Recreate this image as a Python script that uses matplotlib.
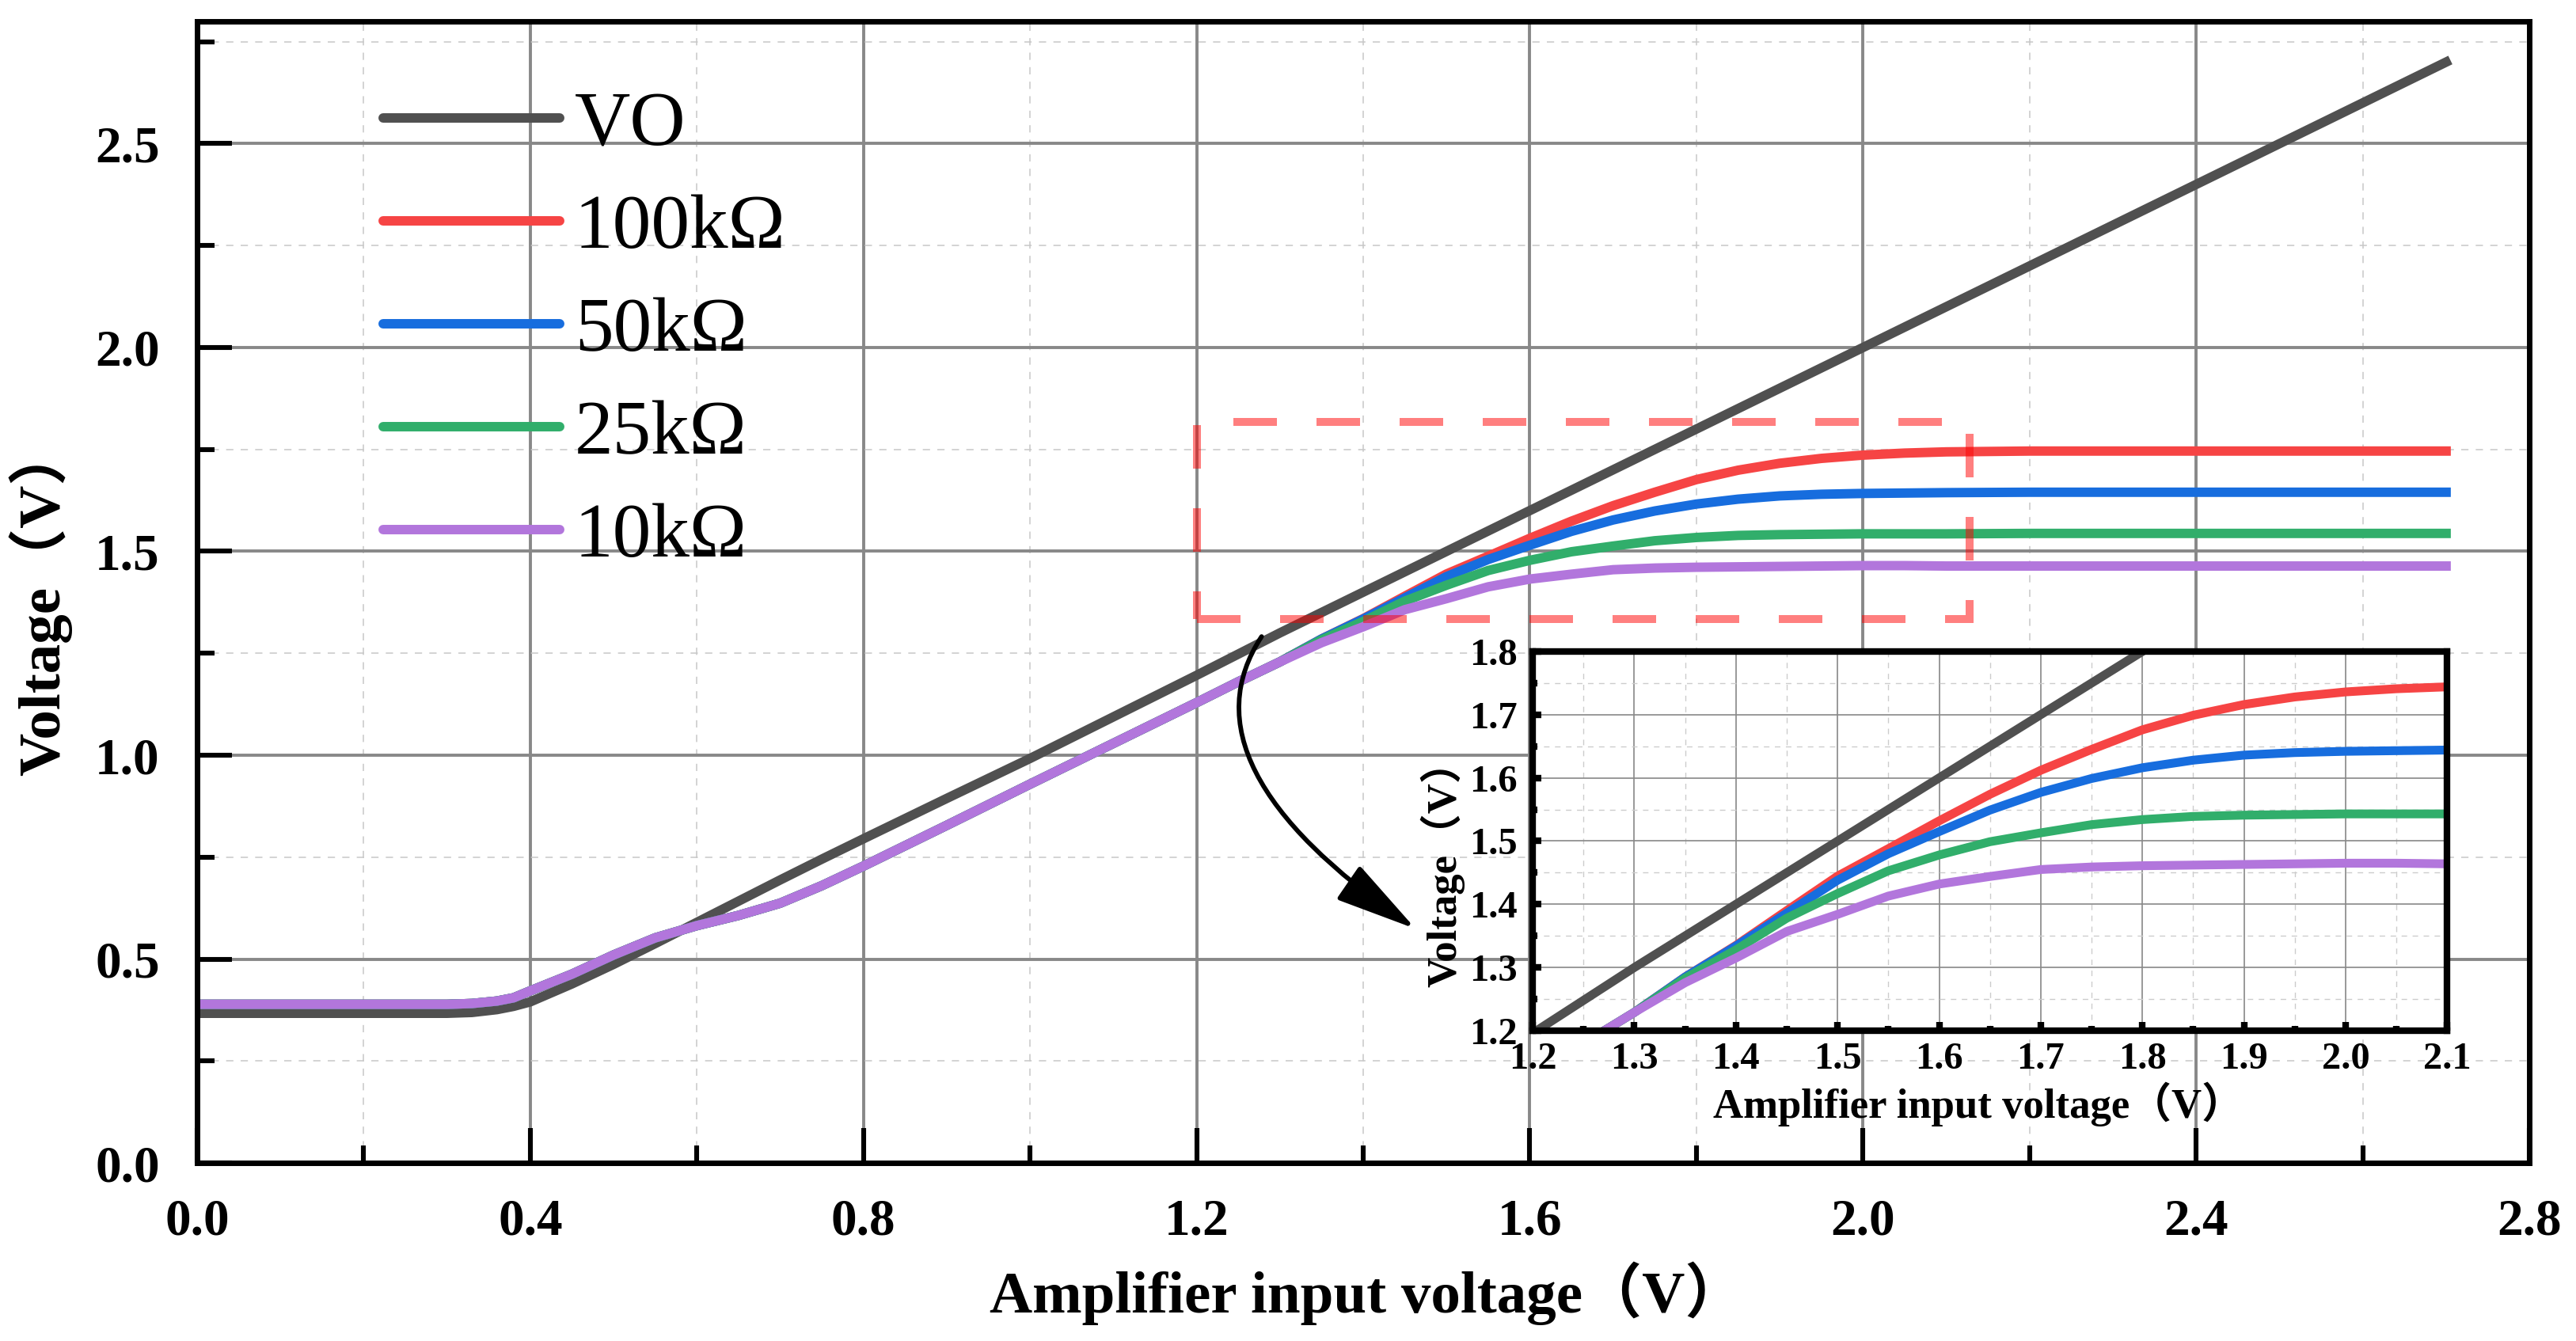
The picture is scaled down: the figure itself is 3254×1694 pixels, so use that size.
import matplotlib
matplotlib.use("Agg")
import matplotlib.pyplot as plt
from matplotlib.patches import Rectangle
from matplotlib.ticker import MultipleLocator, FormatStrFormatter

# amplifier input voltage (V)
x_in = [0.0, 0.1, 0.2, 0.3, 0.33, 0.36, 0.38, 0.4, 0.45, 0.5, 0.55, 0.6, 0.65, 0.7,
        0.75, 0.8, 0.9, 1.0, 1.1, 1.2, 1.25, 1.3, 1.35, 1.4, 1.45, 1.5, 1.55, 1.6,
        1.65, 1.7, 1.75, 1.8, 1.85, 1.9, 1.95, 2.0, 2.05, 2.1, 2.2, 2.4, 2.6, 2.7]

vo = [0.367, 0.367, 0.367, 0.367, 0.369, 0.376, 0.384, 0.395, 0.439, 0.487, 0.538, 0.59,
      0.642, 0.694, 0.745, 0.795, 0.894, 0.992, 1.094, 1.196, 1.248, 1.3, 1.35, 1.4,
      1.45, 1.5, 1.55, 1.6, 1.65, 1.7, 1.75, 1.8, 1.85, 1.9, 1.95, 2.0, 2.05, 2.1,
      2.2, 2.4, 2.6, 2.7]

r100k = [0.389, 0.389, 0.389, 0.389, 0.391, 0.397, 0.405, 0.422, 0.463, 0.51, 0.552, 0.582,
         0.607, 0.637, 0.68, 0.728, 0.828, 0.929, 1.029, 1.129, 1.18, 1.229, 1.285, 1.335,
         1.39, 1.4445, 1.488, 1.532, 1.574, 1.612, 1.645, 1.676, 1.699, 1.716, 1.728, 1.736,
         1.741, 1.744, 1.746, 1.746, 1.746, 1.746]

r50k = [0.389, 0.389, 0.389, 0.389, 0.391, 0.397, 0.405, 0.422, 0.463, 0.51, 0.552, 0.582,
        0.607, 0.637, 0.68, 0.728, 0.828, 0.929, 1.029, 1.129, 1.18, 1.229, 1.285, 1.334,
        1.386, 1.438, 1.48, 1.515, 1.549, 1.577, 1.599, 1.616, 1.628, 1.636, 1.64, 1.642,
        1.643, 1.644, 1.645, 1.645, 1.645, 1.645]

r25k = [0.389, 0.389, 0.389, 0.389, 0.391, 0.397, 0.405, 0.422, 0.463, 0.51, 0.552, 0.582,
        0.607, 0.637, 0.68, 0.728, 0.828, 0.929, 1.029, 1.129, 1.18, 1.229, 1.283, 1.328,
        1.378, 1.417, 1.453, 1.478, 1.499, 1.513, 1.526, 1.534, 1.539, 1.541, 1.542, 1.543,
        1.543, 1.543, 1.544, 1.544, 1.544, 1.544]

r10k = [0.389, 0.389, 0.389, 0.389, 0.391, 0.397, 0.405, 0.422, 0.463, 0.51, 0.552, 0.582,
        0.607, 0.637, 0.68, 0.728, 0.828, 0.929, 1.029, 1.129, 1.18, 1.229, 1.276, 1.315,
        1.357, 1.384, 1.413, 1.432, 1.444, 1.455, 1.459, 1.461, 1.462, 1.463, 1.464, 1.465,
        1.465, 1.464, 1.464, 1.464, 1.464, 1.464]

labels = ["VO", "100kΩ", "50kΩ", "25kΩ", "10kΩ"]
colors = ["#505050", "#F64444", "#176DDE", "#31AE6B", "#B276DC"]

# zoomed region (box on main plot) and arrow ends
box_x = [1.2, 2.128]
box_y = [1.333, 1.818]
arrow_from = (1.278, 1.291)
arrow_to = (1.463, 0.574)

serif = ["Liberation Serif", "Noto Sans CJK SC"]
plt.rcParams["font.family"] = serif
plt.rcParams["font.weight"] = "bold"
plt.rcParams["axes.labelweight"] = "bold"

fig = plt.figure(figsize=(16.27, 8.47), dpi=200)
ax = fig.add_axes([0.0765, 0.1328, 0.9054, 0.8513])

series = [vo, r100k, r50k, r25k, r10k]
for ys, c, lab in zip(series, colors, labels):
    ax.plot(x_in, ys, color=c, lw=4.3, label=lab)

ax.set_xlim(0, 2.8)
ax.set_ylim(0, 2.8)
ax.xaxis.set_major_locator(MultipleLocator(0.4))
ax.xaxis.set_minor_locator(MultipleLocator(0.2))
ax.yaxis.set_major_locator(MultipleLocator(0.5))
ax.yaxis.set_minor_locator(MultipleLocator(0.25))
ax.xaxis.set_major_formatter(FormatStrFormatter("%.1f"))
ax.yaxis.set_major_formatter(FormatStrFormatter("%.1f"))
ax.grid(which="major", color="#888888", lw=1.4)
ax.grid(which="minor", color="#c8c8c8", lw=0.55, ls=(0, (6, 6)))
ax.set_axisbelow(True)
for s in ax.spines.values():
    s.set_linewidth(2.5)
ax.tick_params(which="both", direction="in", top=False, right=False, width=2.2)
ax.tick_params(which="major", length=16, labelsize=23.5)
ax.tick_params(which="minor", length=8)
ax.tick_params(axis="x", which="major", pad=16)
ax.tick_params(axis="y", which="major", pad=17)

ax.set_xlabel("Amplifier input voltage（V）", fontsize=27, fontweight="bold")
ax.xaxis.set_label_coords(0.5015, -0.086)
ax.set_ylabel("Voltage（V）", fontsize=27, fontweight="bold")
ax.yaxis.set_label_coords(-0.0537, 0.493)

leg = ax.legend(loc="upper left", bbox_to_anchor=(0.1487, 0.932),
                bbox_transform=fig.transFigure, frameon=False, borderpad=0,
                borderaxespad=0, handlelength=2.29, handletextpad=0.2,
                labelspacing=0.42,
                prop={"family": serif, "size": 35, "weight": "normal"})
for h in leg.legend_handles:
    h.set_linewidth(4.3)
    h.set_solid_capstyle("round")

ax.add_patch(Rectangle((box_x[0], box_y[0]), box_x[1] - box_x[0], box_y[1] - box_y[0],
                       fill=False, edgecolor=(1, 0, 0, 0.5), lw=3.6,
                       ls=(0, (5.5, 5)), zorder=5))

ax.annotate("", xy=arrow_to, xytext=arrow_from,
            arrowprops=dict(arrowstyle="-|>,head_length=0.4,head_width=0.1",
                            mutation_scale=80,
                            connectionstyle="angle3,angleA=56.6,angleB=145.5",
                            color="black", lw=2.1, shrinkA=0, shrinkB=0),
            zorder=6)

# inset
axin = fig.add_axes([0.595, 0.2314, 0.355, 0.2828])
for ys, c in zip(series, colors):
    axin.plot(x_in, ys, color=c, lw=4.0)
axin.set_xlim(1.2, 2.1)
axin.set_ylim(1.2, 1.8)
axin.xaxis.set_major_locator(MultipleLocator(0.1))
axin.xaxis.set_minor_locator(MultipleLocator(0.05))
axin.yaxis.set_major_locator(MultipleLocator(0.1))
axin.yaxis.set_minor_locator(MultipleLocator(0.05))
axin.xaxis.set_major_formatter(FormatStrFormatter("%.1f"))
axin.yaxis.set_major_formatter(FormatStrFormatter("%.1f"))
axin.grid(which="major", color="#888888", lw=0.6)
axin.grid(which="minor", color="#cccccc", lw=0.5, ls=(0, (5, 5)))
axin.set_axisbelow(True)
for s in axin.spines.values():
    s.set_linewidth(3)
axin.tick_params(which="both", direction="in", top=False, right=False, width=3)
axin.tick_params(which="major", length=4, labelsize=17.5)
axin.tick_params(which="minor", length=2)
axin.tick_params(axis="x", which="major", pad=5)
axin.tick_params(axis="y", which="major", pad=7)
axin.set_xlabel("Amplifier input voltage（V）", fontsize=19, fontweight="bold")
axin.xaxis.set_label_coords(0.487, -0.134)
axin.set_ylabel("Voltage（V）", fontsize=19, fontweight="bold")
axin.yaxis.set_label_coords(-0.0745, 0.44)

fig.savefig("out.png", dpi=200)
